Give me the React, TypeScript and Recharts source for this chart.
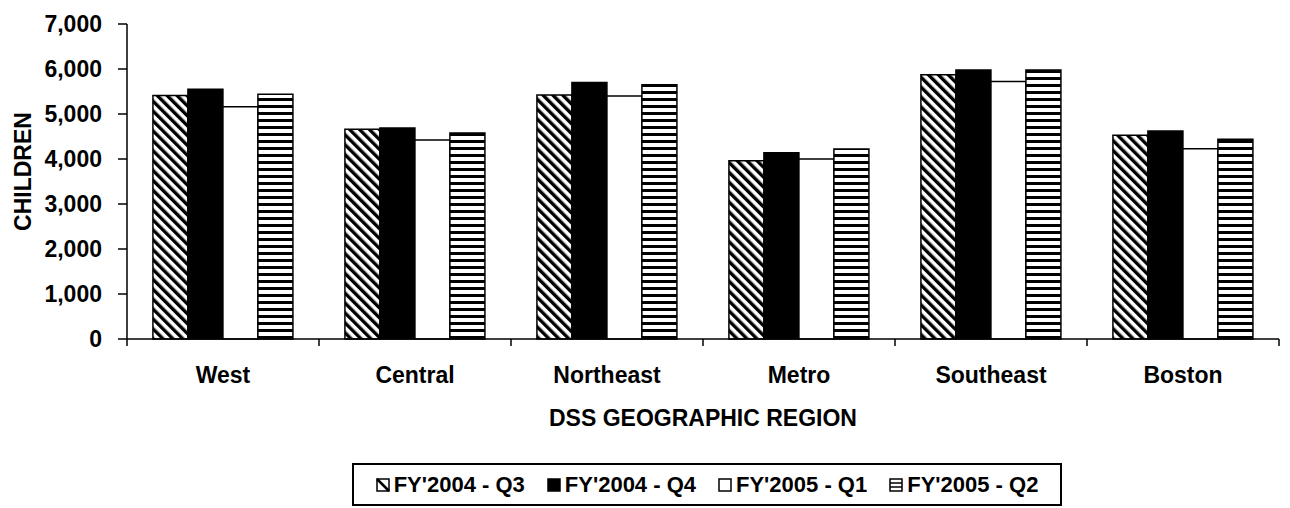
import { BarChart, Bar, XAxis, YAxis, Label } from 'recharts'

const regions = ['West', 'Central', 'Northeast', 'Metro', 'Southeast', 'Boston']
const fy2004q3 = [5410, 4660, 5420, 3960, 5870, 4530]
const fy2004q4 = [5550, 4690, 5700, 4140, 5980, 4620]
const fy2005q1 = [5160, 4420, 5400, 4000, 5720, 4230]
const fy2005q2 = [5440, 4580, 5650, 4220, 5980, 4440]
const yTicks = [0, 1000, 2000, 3000, 4000, 5000, 6000, 7000]

const series = [
  { key: 'q3', name: "FY'2004 - Q3", fill: 'url(#diag)', icon: 'diag' },
  { key: 'q4', name: "FY'2004 - Q4", fill: '#000', icon: 'solid' },
  { key: 'q1', name: "FY'2005 - Q1", fill: '#fff', icon: 'empty' },
  { key: 'q2', name: "FY'2005 - Q2", fill: 'url(#hstripe)', icon: 'stripe' },
]

const data = regions.map((region, i) => ({
  region,
  q3: fy2004q3[i],
  q4: fy2004q4[i],
  q1: fy2005q1[i],
  q2: fy2005q2[i],
}))

const FONT = '"Liberation Sans", Arial, sans-serif'

function RegionTick(props: any) {
  const { x, y, payload, index, visibleTicksCount, width } = props
  const half = payload.offset ?? width / (2 * visibleTicksCount)
  return (
    <g>
      <line x1={x - half} x2={x - half} y1={y} y2={y + 7} stroke="#000" strokeWidth={1.5} />
      {index === visibleTicksCount - 1 && (
        <line x1={x + half} x2={x + half} y1={y} y2={y + 7} stroke="#000" strokeWidth={1.5} />
      )}
      <text x={x} y={y + 36} dy="0.355em" textAnchor="middle" fontFamily={FONT} fontWeight="bold" fontSize={23} fill="#000">
        {payload.value}
      </text>
    </g>
  )
}

function LegendIcon({ kind }: { kind: string }) {
  return (
    <svg width={14} height={14} style={{ marginRight: 4 }}>
      <rect x={1} y={1} width={12} height={12} fill={kind === 'solid' ? '#000' : '#fff'} stroke="#000" strokeWidth={1.5} />
      {kind === 'diag' && <line x1={1} y1={1} x2={13} y2={13} stroke="#000" strokeWidth={2.5} />}
      {kind === 'stripe' && (
        <>
          <line x1={1} y1={5} x2={13} y2={5} stroke="#000" strokeWidth={1.5} />
          <line x1={1} y1={9} x2={13} y2={9} stroke="#000" strokeWidth={1.5} />
        </>
      )}
    </svg>
  )
}

export default function App() {
  return (
    <div style={{ position: 'relative', width: 1290, height: 508, background: '#fff' }}>
      <style>{'body{margin:0}'}</style>
      <BarChart
        width={1290}
        height={508}
        data={data}
        margin={{ top: 24, right: 11, bottom: 69, left: 0 }}
        barGap={0}
        barCategoryGap="13.5%"
      >
        <defs>
          <pattern id="diag" width={7} height={7} patternUnits="userSpaceOnUse" patternTransform="rotate(-45)">
            <rect width={7} height={7} fill="#fff" />
            <rect width={3.4} height={7} fill="#000" />
          </pattern>
          <pattern id="hstripe" width={7} height={7} patternUnits="userSpaceOnUse">
            <rect width={7} height={7} fill="#fff" />
            <rect width={7} height={3} fill="#000" />
          </pattern>
        </defs>
        <XAxis
          dataKey="region"
          height={100}
          tickSize={0}
          tickMargin={0}
          tickLine={false}
          tick={<RegionTick />}
          axisLine={{ stroke: '#000', strokeWidth: 1.5 }}
        >
          <Label
            content={(p: any) => {
              const vb = p.viewBox
              return (
                <text x={vb.x + vb.width / 2} y={vb.y + 79} dy="0.355em" textAnchor="middle" fontFamily={FONT} fontWeight="bold" fontSize={23} fill="#000">
                  DSS GEOGRAPHIC REGION
                </text>
              )
            }}
          />
        </XAxis>
        <YAxis
          width={127}
          domain={[0, 7000]}
          ticks={yTicks}
          interval={0}
          tickSize={9}
          tickMargin={16}
          tickLine={{ stroke: '#000', strokeWidth: 1.5 }}
          axisLine={{ stroke: '#000', strokeWidth: 1.5 }}
          tick={{ fill: '#000', fontFamily: FONT, fontWeight: 'bold', fontSize: 23 }}
          tickFormatter={(v: number) => v.toLocaleString('en-US')}
        >
          <Label
            content={(p: any) => {
              const vb = p.viewBox
              const cy = vb.y + vb.height / 2 - 10
              return (
                <text x={23} y={cy} dy="0.355em" textAnchor="middle" transform={`rotate(-90 23 ${cy})`} fontFamily={FONT} fontWeight="bold" fontSize={23} fill="#000">
                  CHILDREN
                </text>
              )
            }}
          />
        </YAxis>
        {series.map((s) => (
          <Bar key={s.key} dataKey={s.key} name={s.name} fill={s.fill} stroke="#000" strokeWidth={1.5} isAnimationActive={false} />
        ))}
      </BarChart>
      <div
        style={{
          position: 'absolute',
          left: 352,
          top: 463,
          width: 710,
          height: 43,
          boxSizing: 'border-box',
          border: '2px solid #000',
          display: 'flex',
          alignItems: 'center',
          justifyContent: 'center',
          gap: 22,
          fontFamily: FONT,
          fontWeight: 'bold',
          fontSize: 22,
          color: '#000',
          whiteSpace: 'nowrap',
        }}
      >
        {series.map((s) => (
          <span key={s.key} style={{ display: 'inline-flex', alignItems: 'center' }}>
            <LegendIcon kind={s.icon} />
            {s.name}
          </span>
        ))}
      </div>
    </div>
  )
}
